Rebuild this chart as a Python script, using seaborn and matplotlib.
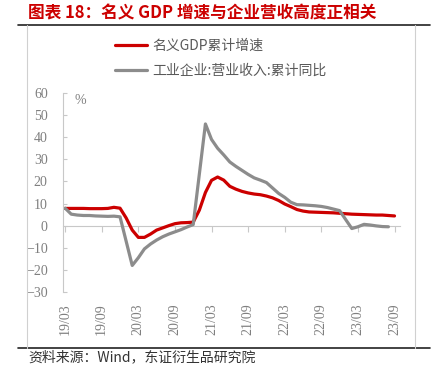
import numpy as np
import pandas as pd
import matplotlib
matplotlib.use("Agg")
import matplotlib.pyplot as plt
from matplotlib.lines import Line2D
import seaborn as sns

# monthly points, 2019/03 .. 2023/09
months = pd.date_range("2019-03-01", "2023-09-01", freq="MS")

gdp_cum = [
    7.8, 7.8, 7.8, 7.8, 7.7, 7.7, 7.7, 7.8, 8.3, 7.9,
    3.5, -2.0, -5.3, -5.3, -3.8, -2.0, -1.0, 0.0, 0.9, 1.3,
    1.4, 1.6, 7.0, 15.0, 20.5, 22.0, 20.6, 17.8, 16.5, 15.5,
    14.8, 14.3, 14.0, 13.4, 12.6, 11.4, 9.8, 8.6, 7.3, 6.6,
    6.2, 6.1, 6.0, 5.9, 5.8, 5.6, 5.4, 5.2, 5.1, 5.0,
    4.9, 4.8, 4.8, 4.6, 4.4,
]

# no January print for industrial revenue
rev_cum = [
    7.9, 5.2, 4.8, 4.6, 4.6, 4.4, 4.3, 4.2, 4.3, 4.0,
    np.nan, -18.0, -14.5, -10.5, -8.3, -6.5, -5.0, -3.8, -2.8, -1.8,
    -0.6, 0.5, np.nan, 46.0, 39.0, 35.0, 32.0, 28.8, 26.8, 25.0,
    23.2, 21.6, 20.6, 19.5, np.nan, 14.6, 12.8, 10.6, 9.5, 9.4,
    9.2, 9.0, 8.7, 8.2, 7.5, 6.8, np.nan, -1.3, -0.5, 0.6,
    0.3, -0.1, -0.4, -0.5, np.nan,
]

gdp_label = "名义GDP累计增速"
rev_label = "工业企业:营业收入:累计同比"

RED = "#CC0000"
GREY = "#8C8C8C"
AXIS = "#C8C8C8"
TXT = "#7F7F7F"

sns.set_style("white")
plt.rcParams["font.family"] = ["Noto Sans CJK SC", "DejaVu Sans"]

df = pd.DataFrame({"m": np.arange(len(months)), "gdp": gdp_cum, "rev": rev_cum})

fig = plt.figure(figsize=(4.39, 3.79), dpi=100)
ax = fig.add_axes([63 / 439, 87 / 379, 337 / 439, 199 / 379])

sns.lineplot(data=df.dropna(subset=["gdp"]), x="m", y="gdp", ax=ax,
             color=RED, linewidth=2.3, label=gdp_label)
sns.lineplot(data=df.dropna(subset=["rev"]), x="m", y="rev", ax=ax,
             color=GREY, linewidth=2.3, label=rev_label)

ax.set_xlim(-0.35, 54.9)
ax.set_ylim(-30, 60)
ax.set_xlabel("")
ax.set_ylabel("")

tick_pos = df["m"].values[::6]
tick_lab = [d.strftime("%y/%m") for d in months[::6]]
ax.set_xticks(tick_pos)
ax.set_xticklabels(tick_lab, rotation=90, va="top")
ax.tick_params(axis="x", length=0, pad=8, labelsize=10, labelcolor=TXT)

ax.set_yticks(range(-30, 61, 10))
ax.tick_params(axis="y", direction="in", length=3, color=AXIS, pad=11,
               labelsize=10, labelcolor=TXT, left=True)
for lab in ax.get_xticklabels() + ax.get_yticklabels():
    lab.set_fontfamily("Liberation Serif")

for s in ["top", "right", "bottom"]:
    ax.spines[s].set_visible(False)
ax.spines["left"].set_color(AXIS)
ax.spines["left"].set_linewidth(0.8)

# zero line carrying the date ticks
sec = ax.secondary_xaxis(1 / 3)
sec.set_xticks(tick_pos)
sec.set_xticklabels([])
sec.tick_params(axis="x", direction="out", length=4, color=AXIS)
for s in sec.spines.values():
    s.set_color(AXIS)
    s.set_linewidth(0.8)

ax.text(0.035, 0.995, "%", transform=ax.transAxes, va="top", ha="left",
        fontsize=10, color=TXT, family="Liberation Serif")

ax.legend(loc="upper left", bbox_to_anchor=(115 / 439, 1 - 39 / 379),
          bbox_transform=fig.transFigure, frameon=False, fontsize=10,
          labelcolor="#595959", handlelength=2.3, handletextpad=0.4,
          labelspacing=0.75, borderpad=0, borderaxespad=0)

# page furniture: title, rules, frame, source
fig.text(28 / 439, 1 - 13 / 379, "图表 18：名义 GDP 增速与企业营收高度正相关",
         color=RED, fontsize=12, fontweight="bold", va="center", ha="left")
y_top, y_bot = 1 - 25 / 379, 1 - 348 / 379
for y in (y_top, y_bot):
    fig.add_artist(Line2D([18 / 439, 430 / 439], [y, y], color="#222222", lw=1.2))
for x in (27 / 439, 415 / 439):
    fig.add_artist(Line2D([x, x], [y_bot, y_top], color="#D0D0D0", lw=0.8))
fig.text(28 / 439, 1 - 357 / 379, "资料来源：Wind，东证衍生品研究院",
         color="#333333", fontsize=10, va="center", ha="left")

fig.savefig("out.png", dpi=100)
